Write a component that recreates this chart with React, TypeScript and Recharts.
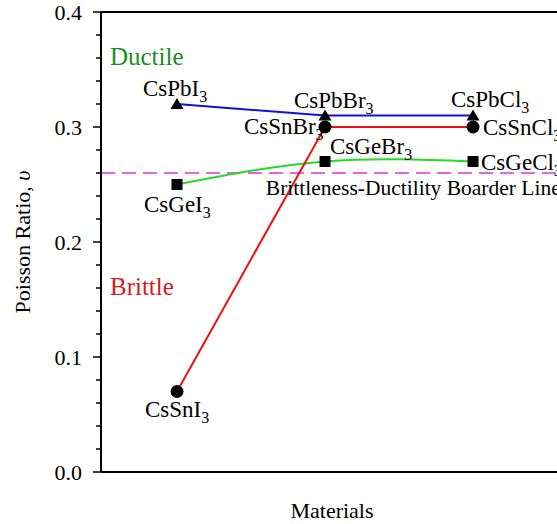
import React from 'react';
import { LineChart, Line, XAxis, YAxis, ReferenceLine, ReferenceDot } from 'recharts';

const SERIF = '"Liberation Serif", "Times New Roman", serif';

// x slot of each halide (I, Br, Cl)
const slots = [1, 2, 3];
const pbNames = ['CsPbI', 'CsPbBr', 'CsPbCl'];
const snNames = ['CsSnI', 'CsSnBr', 'CsSnCl'];
const geNames = ['CsGeI', 'CsGeBr', 'CsGeCl'];
const pbRatio = [0.32, 0.31, 0.31];
const snRatio = [0.07, 0.3, 0.3];
const geRatio = [0.25, 0.27, 0.27];
const borderRatio = 0.26;
const yTicks = [0, 0.02, 0.04, 0.06, 0.08, 0.1, 0.12, 0.14, 0.16, 0.18, 0.2, 0.22, 0.24, 0.26, 0.28, 0.3, 0.32, 0.34, 0.36, 0.38, 0.4];

const data = slots.map((x, i) => ({ x, pb: pbRatio[i], sn: snRatio[i], ge: geRatio[i] }));

// where each formula sits relative to its marker: [dx, dy] of the text start / baseline
const pbOffsets = [[-34, -8], [-31, -8], [-22, -9]];
const snOffsets = [[-32, 25], [-81, 7], [10, 8]];
const geOffsets = [[-33, 27], [5, -8], [8, 8]];

const Formula = ({ x, y, name }: { x: number; y: number; name: string }) => (
  <text x={x} y={y} fontFamily={SERIF} fontSize={23} fill="#000">
    {name}
    <tspan fontSize={16} dy={6}>3</tspan>
  </text>
);

const makeDot = (kind: 'tri' | 'circle' | 'square', names: string[], offsets: number[][]) => (p: any) => {
  const { cx, cy, index } = p;
  if (cx == null || cy == null) return <g key={`d-${kind}-${index}`} />;
  const [dx, dy] = offsets[index];
  let marker;
  if (kind === 'tri') {
    marker = <polygon points={`${cx},${cy - 6} ${cx - 6.5},${cy + 5} ${cx + 6.5},${cy + 5}`} fill="#000" />;
  } else if (kind === 'circle') {
    marker = <circle cx={cx} cy={cy} r={6.5} fill="#000" />;
  } else {
    marker = <rect x={cx - 5.5} y={cy - 5.5} width={11} height={11} fill="#000" />;
  }
  return (
    <g key={`d-${kind}-${index}`}>
      {marker}
      <Formula x={cx + dx} y={cy + dy} name={names[index]} />
    </g>
  );
};

const renderYTick = (p: any) => {
  const v = p.payload.value;
  const major = Math.abs(v * 10 - Math.round(v * 10)) < 1e-6;
  const axisX = p.x + 8 + 11;
  return (
    <g key={`t-${v}`}>
      <line x1={axisX} x2={axisX - (major ? 8 : 5)} y1={p.y} y2={p.y} stroke="#000" strokeWidth={1.5} />
      {major && (
        <text x={p.x} y={p.y} dy="0.35em" textAnchor="end" fontFamily={SERIF} fontSize={22} fill="#000">
          {v.toFixed(1)}
        </text>
      )}
    </g>
  );
};

const note = (text: string, color: string, size: number) => (p: any) => (
  <text x={p.cx} y={p.cy} fontFamily={SERIF} fontSize={size} fill={color}>
    {text}
  </text>
);

const yTitle = (p: any) => {
  const vb = p.viewBox || { y: 12, height: 460 };
  const cy = vb.y + vb.height / 2;
  return (
    <text x={30} y={cy} transform={`rotate(-90, 30, ${cy})`} textAnchor="middle" fontFamily={SERIF} fontSize={22} fill="#000">
      Poisson Ratio, <tspan fontStyle="italic">υ</tspan>
    </text>
  );
};

const xTitle = (p: any) => {
  const vb = p.viewBox || { x: 101, y: 472 };
  return (
    <text x={vb.x + 231} y={vb.y + 46} textAnchor="middle" fontFamily={SERIF} fontSize={22} fill="#000">
      Materials
    </text>
  );
};

export default function App() {
  return (
    <div style={{ position: 'absolute', left: 0, top: 0, width: 557, height: 524, overflow: 'hidden', background: '#fff' }}>
      <LineChart width={620} height={524} data={data} margin={{ top: 12, right: 0, bottom: 0, left: 0 }}>
        <XAxis
          dataKey="x"
          type="number"
          domain={[0.4865, 3.993]}
          allowDataOverflow
          tick={false}
          tickLine={false}
          axisLine={{ stroke: '#000', strokeWidth: 2 }}
          height={52}
          label={{ content: xTitle }}
        />
        <YAxis
          type="number"
          domain={[0, 0.4]}
          ticks={yTicks}
          interval={0}
          width={101}
          tickSize={8}
          tickMargin={11}
          tickLine={false}
          tick={renderYTick}
          axisLine={{ stroke: '#000', strokeWidth: 2 }}
          label={{ content: yTitle }}
        />
        <ReferenceLine y={0.4} stroke="#000" strokeWidth={2} />
        <ReferenceLine y={borderRatio} stroke="#dd33dd" strokeWidth={1.5} strokeDasharray="14 7" />
        <ReferenceDot x={0.547} y={0.354} r={0} shape={note('Ductile', '#1e8c1e', 25)} />
        <ReferenceDot x={0.547} y={0.1536} r={0} shape={note('Brittle', '#d41c1c', 25)} />
        <ReferenceDot x={1.6} y={0.2406} r={0} shape={note('Brittleness-Ductility Boarder Line', '#000', 21.5)} />
        <Line
          dataKey="ge"
          type="natural"
          stroke="#22dd22"
          strokeWidth={2}
          isAnimationActive={false}
          dot={makeDot('square', geNames, geOffsets)}
          activeDot={false}
        />
        <Line
          dataKey="sn"
          type="linear"
          stroke="#ee1111"
          strokeWidth={2}
          isAnimationActive={false}
          dot={makeDot('circle', snNames, snOffsets)}
          activeDot={false}
        />
        <Line
          dataKey="pb"
          type="linear"
          stroke="#1111dd"
          strokeWidth={2}
          isAnimationActive={false}
          dot={makeDot('tri', pbNames, pbOffsets)}
          activeDot={false}
        />
      </LineChart>
    </div>
  );
}
